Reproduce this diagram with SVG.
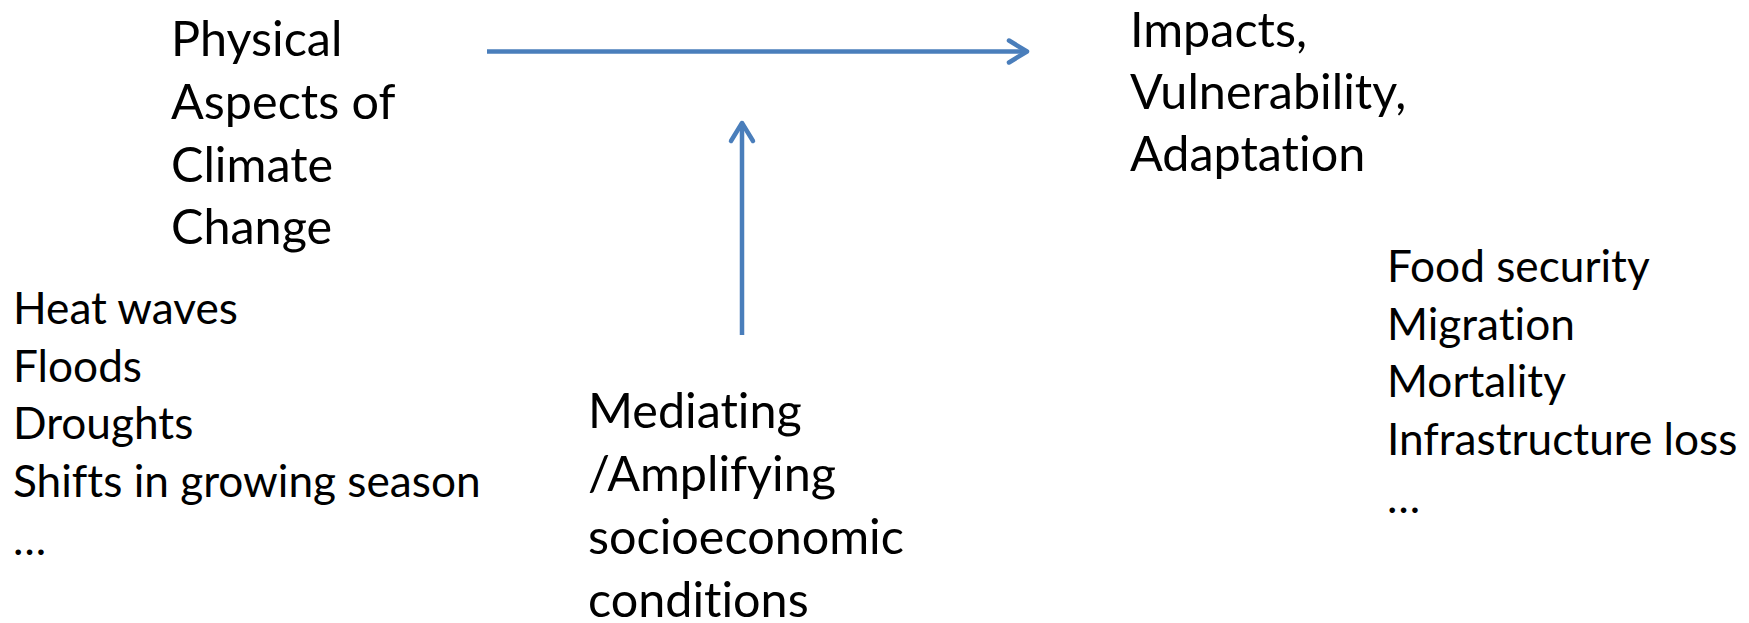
<svg xmlns="http://www.w3.org/2000/svg" width="1749" height="623" viewBox="0 0 1749 623">
<style>
.t{font-family:Lato,"Liberation Sans",sans-serif;fill:#000;font-variant-ligatures:none;font-feature-settings:"liga" 0,"clig" 0}
.big{font-size:48.5px}
.sm{font-size:44.2px}
.conn{stroke:#4a7ebb;stroke-width:4.5;fill:none}
</style>
<defs>
<marker id="chev" markerUnits="userSpaceOnUse" viewBox="-24 -14 28 28" refX="0" refY="0" markerWidth="28" markerHeight="28" orient="auto" overflow="visible">
<path d="M -18 -11 L 0 0 L -18 11" stroke="#4a7ebb" stroke-width="4.5" fill="none" stroke-linecap="round" stroke-linejoin="round"/>
</marker>
</defs>
<rect width="1749" height="623" fill="#fff"/>
<g id="physical">
<text class="t big"><tspan x="171" y="56">Physical</tspan><tspan x="171" y="119">Aspects of</tspan><tspan x="171" y="182">Climate</tspan><tspan x="171" y="244">Change</tspan></text>
</g>
<g id="hazards">
<text class="t sm"><tspan x="13" y="324">Heat waves</tspan><tspan x="13" y="382">Floods</tspan><tspan x="13" y="439">Droughts</tspan><tspan x="13" y="497">Shifts in growing season</tspan><tspan x="13" y="555">…</tspan></text>
</g>
<g id="mediating">
<text class="t big"><tspan x="588" y="428">Mediating</tspan><tspan x="588" y="491">/Amplifying</tspan><tspan x="588" y="554">socioeconomic</tspan><tspan x="588" y="617">conditions</tspan></text>
</g>
<g id="impacts">
<text class="t big"><tspan x="1130" y="47">Impacts,</tspan><tspan x="1130" y="109">Vulnerability,</tspan><tspan x="1130" y="171">Adaptation</tspan></text>
</g>
<g id="outcomes">
<text class="t sm"><tspan x="1387" y="282">Food security</tspan><tspan x="1387" y="340">Migration</tspan><tspan x="1387" y="397">Mortality</tspan><tspan x="1387" y="455">Infrastructure loss</tspan><tspan x="1387" y="513">…</tspan></text>
</g>
<g id="connectors">
<line class="conn" x1="487" y1="51.5" x2="1027" y2="51.5" marker-end="url(#chev)"/>
<line class="conn" x1="742" y1="335" x2="742" y2="123" marker-end="url(#chev)"/>
</g>
</svg>
